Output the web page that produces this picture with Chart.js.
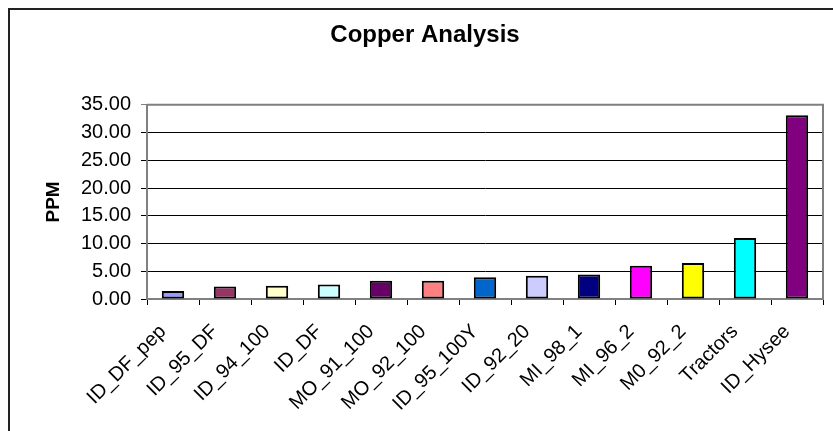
<!DOCTYPE html>
<html>
<head>
<meta charset="utf-8">
<script src="https://cdn.jsdelivr.net/npm/chart.js@4"></script>
<style>
html,body{margin:0;padding:0;background:#fff;}
#wrap{width:833px;height:431px;position:relative;}
</style>
</head>
<body>
<div id="wrap"><canvas id="c" width="833" height="431"></canvas></div>
<script>
const categories = ["ID_DF_pep","ID_95_DF","ID_94_100","ID_DF","MO_91_100","MO_92_100","ID_95_100Y","ID_92_20","MI_98_1","MI_96_2","M0_92_2","Tractors","ID_Hysee"];
const ppmValues = [1.45, 2.25, 2.4, 2.6, 3.3, 3.3, 3.9, 4.2, 4.4, 6.0, 6.5, 11.0, 33.1];
const barColors = ["#9999FF","#993366","#FFFFCC","#CCFFFF","#660066","#FF8080","#0066CC","#CCCCFF","#000080","#FF00FF","#FFFF00","#00FFFF","#800080"];
const yTicks = [0, 5, 10, 15, 20, 25, 30, 35];
const chartTitle = "Copper Analysis";
const yTitle = "PPM";

const frame = {
  id: 'frame',
  beforeDraw(chart) {
    const ctx = chart.ctx;
    ctx.save();
    ctx.fillStyle = '#fff';
    ctx.fillRect(0, 0, chart.width, chart.height);
    ctx.strokeStyle = '#222';
    ctx.lineWidth = 2;
    ctx.strokeRect(9, 9, 900, 900);
    ctx.restore();
  },
  afterDatasetsDraw(chart) {
    const a = chart.chartArea, ctx = chart.ctx;
    ctx.save();
    ctx.strokeStyle = '#808080';
    ctx.lineWidth = 2;
    ctx.beginPath();
    ctx.moveTo(a.left, a.top);
    ctx.lineTo(a.right, a.top);
    ctx.lineTo(a.right, a.bottom);
    ctx.stroke();
    ctx.restore();
  }
};

new Chart(document.getElementById('c'), {
  type: 'bar',
  data: {
    labels: categories,
    datasets: [{
      data: ppmValues,
      backgroundColor: barColors,
      borderColor: '#000',
      borderWidth: 2,
      borderSkipped: false,
      barPercentage: 0.43,
      categoryPercentage: 1.0
    }]
  },
  options: {
    responsive: false,
    animation: false,
    devicePixelRatio: 1,
    layout: { padding: { left: 27, right: 10, top: 10, bottom: 0 } },
    plugins: {
      legend: { display: false },
      tooltip: { enabled: false },
      title: {
        display: true,
        text: chartTitle,
        color: '#000',
        font: { family: 'Liberation Sans, Arial, sans-serif', size: 24, weight: 'bold' },
        padding: { top: 11, bottom: 55 }
      }
    },
    scales: {
      x: {
        afterFit(s) { s.height = 132; },
        grid: { display: true, drawOnChartArea: false, drawTicks: true, tickLength: 6, color: '#000', offset: true },
        border: { display: true, color: '#808080', width: 2 },
        ticks: {
          autoSkip: false, minRotation: 45, maxRotation: 45, padding: 15, labelOffset: -10,
          color: '#000',
          font: { family: 'Liberation Sans, Arial, sans-serif', size: 20 }
        }
      },
      y: {
        min: 0, max: 35,
        afterFit(s) { s.width = 120; },
        afterBuildTicks(s) { s.ticks = yTicks.map(v => ({ value: v })); },
        grid: {
          color: (c) => (c.tick && c.tick.value === 35) ? '#808080' : '#000',
          lineWidth: 1, tickLength: 6, drawTicks: true
        },
        border: { display: true, color: '#808080', width: 2 },
        title: {
          display: true, text: yTitle, color: '#000',
          font: { family: 'Liberation Sans, Arial, sans-serif', size: 19, weight: 'bold' },
          padding: { top: 15, bottom: 0 }
        },
        ticks: {
          padding: 10, color: '#000',
          font: { family: 'Liberation Sans, Arial, sans-serif', size: 20 },
          callback: (v) => Number(v).toFixed(2)
        }
      }
    }
  },
  plugins: [frame]
});
</script>
</body>
</html>
